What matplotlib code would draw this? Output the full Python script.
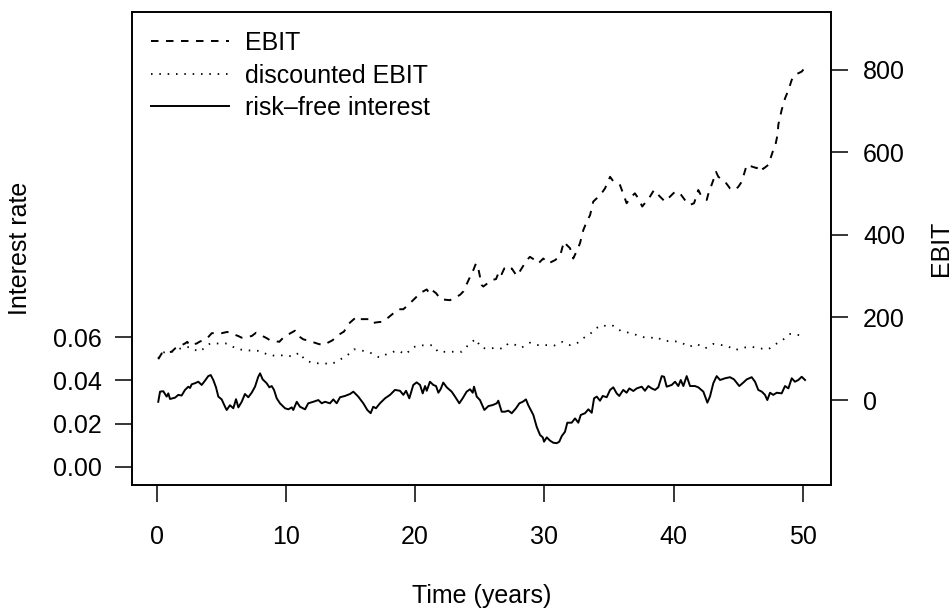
import numpy as np
import matplotlib
matplotlib.use("Agg")
import matplotlib.pyplot as plt

plt.rcParams["font.family"] = ["Liberation Sans", "DejaVu Sans"]
plt.rcParams["lines.scale_dashes"] = False

# risk-free interest rate (left axis)
t_rate = [0.12, 0.26, 0.51, 0.77, 0.90, 1.03, 1.42, 1.67, 1.93, 2.19, 2.45, 2.58, 2.71, 2.96, 3.22, 3.48, 3.74, 3.99,
          4.18, 4.38, 4.59, 4.77, 5.03, 5.29, 5.42, 5.67, 5.93, 6.14, 6.32, 6.58, 6.83, 7.09, 7.35, 7.61, 7.86, 8.00,
          8.20, 8.51, 8.72, 8.90, 9.08, 9.29, 9.54, 9.93, 10.19, 10.45, 10.57, 10.84, 11.09, 11.48, 11.73, 12.12,
          12.51, 12.77, 13.03, 13.41, 13.67, 13.93, 14.19, 14.57, 14.96, 15.22, 15.60, 15.99, 16.30, 16.56, 16.76,
          16.97, 17.28, 17.67, 18.06, 18.44, 18.83, 19.09, 19.30, 19.55, 19.86, 20.12, 20.38, 20.59, 20.77, 20.90,
          21.15, 21.41, 21.62, 21.80, 21.98, 22.18, 22.45, 22.83, 23.09, 23.42, 23.68, 23.99, 24.25, 24.46, 24.56,
          24.77, 25.02, 25.36, 25.67, 26.01, 26.32, 26.44, 26.70, 26.96, 27.21, 27.48, 27.81, 28.07, 28.33, 28.58,
          28.76, 29.15, 29.41, 29.67, 29.88, 29.98, 30.19, 30.44, 30.70, 30.96, 31.16, 31.35, 31.60, 31.78, 32.12,
          32.38, 32.63, 32.82, 33.15, 33.41, 33.67, 33.85, 34.06, 34.31, 34.52, 34.83, 35.09, 35.34, 35.60, 35.80,
          36.11, 36.37, 36.58, 36.89, 37.15, 37.54, 37.79, 38.05, 38.31, 38.57, 38.82, 39.09, 39.27, 39.47, 39.86,
          40.12, 40.37, 40.56, 40.76, 41.02, 41.28, 41.66, 41.92, 42.31, 42.62, 42.82, 43.08, 43.34, 43.60, 43.99,
          44.37, 44.68, 45.09, 45.40, 45.67, 46.05, 46.31, 46.56, 46.83, 47.08, 47.26, 47.47, 47.72, 47.99, 48.37,
          48.63, 48.89, 49.15, 49.40, 49.66, 49.92, 50.18]
rate = [0.0301, 0.0348, 0.0350, 0.0325, 0.0340, 0.0314, 0.0320, 0.0333, 0.0330, 0.0356, 0.0371, 0.0365, 0.0382,
        0.0387, 0.0394, 0.0379, 0.0399, 0.0420, 0.0425, 0.0402, 0.0368, 0.0325, 0.0312, 0.0278, 0.0263, 0.0285,
        0.0271, 0.0313, 0.0275, 0.0301, 0.0337, 0.0322, 0.0343, 0.0371, 0.0417, 0.0433, 0.0405, 0.0387, 0.0368,
        0.0374, 0.0356, 0.0317, 0.0294, 0.0271, 0.0266, 0.0275, 0.0263, 0.0301, 0.0278, 0.0266, 0.0294, 0.0301,
        0.0309, 0.0294, 0.0301, 0.0294, 0.0312, 0.0294, 0.0322, 0.0328, 0.0337, 0.0348, 0.0325, 0.0294, 0.0263,
        0.0248, 0.0278, 0.0271, 0.0294, 0.0317, 0.0333, 0.0356, 0.0352, 0.0333, 0.0352, 0.0317, 0.0379, 0.0391,
        0.0379, 0.0340, 0.0374, 0.0352, 0.0394, 0.0379, 0.0374, 0.0343, 0.0360, 0.0390, 0.0368, 0.0348, 0.0325,
        0.0294, 0.0317, 0.0348, 0.0359, 0.0343, 0.0371, 0.0325, 0.0309, 0.0263, 0.0281, 0.0286, 0.0294, 0.0306,
        0.0255, 0.0255, 0.0260, 0.0248, 0.0271, 0.0294, 0.0301, 0.0312, 0.0285, 0.0240, 0.0185, 0.0147, 0.0136,
        0.0116, 0.0136, 0.0121, 0.0111, 0.0109, 0.0116, 0.0142, 0.0162, 0.0204, 0.0204, 0.0224, 0.0204, 0.0240,
        0.0248, 0.0266, 0.0250, 0.0317, 0.0325, 0.0306, 0.0328, 0.0322, 0.0356, 0.0368, 0.0340, 0.0328, 0.0356,
        0.0343, 0.0363, 0.0351, 0.0363, 0.0371, 0.0352, 0.0374, 0.0363, 0.0356, 0.0368, 0.0420, 0.0417, 0.0371,
        0.0379, 0.0394, 0.0374, 0.0402, 0.0374, 0.0420, 0.0374, 0.0374, 0.0368, 0.0348, 0.0297, 0.0325, 0.0387,
        0.0420, 0.0402, 0.0410, 0.0415, 0.0405, 0.0374, 0.0390, 0.0405, 0.0415, 0.0394, 0.0356, 0.0348, 0.0333,
        0.0309, 0.0343, 0.0333, 0.0343, 0.0340, 0.0374, 0.0363, 0.0410, 0.0394, 0.0402, 0.0417, 0.0402]

# EBIT (right axis)
t_ebit = [0.12, 0.39, 1.16, 1.42, 2.19, 2.37, 2.52, 3.10, 3.30, 3.92, 4.26, 5.03, 5.46, 6.32, 6.58, 7.35, 7.69, 8.51,
          8.77, 9.49, 9.85, 10.70, 10.84, 11.35, 11.73, 12.51, 12.89, 13.62, 13.93, 14.50, 14.83, 15.48, 15.74, 16.38,
          16.64, 16.97, 17.54, 17.93, 18.70, 19.09, 19.55, 20.17, 20.38, 20.90, 21.10, 21.28, 21.62, 21.98, 22.70,
          23.09, 23.48, 23.73, 24.20, 24.38, 24.71, 24.89, 25.15, 25.28, 25.93, 26.26, 26.52, 26.70, 26.90, 27.21,
          27.48, 27.86, 28.07, 28.64, 28.89, 29.28, 29.54, 29.92, 30.31, 30.83, 31.22, 31.52, 31.73, 31.99, 32.24,
          32.55, 32.76, 33.02, 33.28, 33.54, 33.79, 34.06, 34.52, 34.70, 35.09, 35.34, 35.86, 36.37, 36.75, 37.01,
          37.27, 37.58, 38.18, 38.49, 38.95, 39.34, 39.86, 40.12, 40.50, 40.97, 41.28, 41.59, 41.92, 42.11, 42.57,
          42.69, 43.08, 43.29, 43.47, 43.99, 44.37, 44.76, 45.02, 45.28, 45.67, 46.44, 46.69, 46.93, 47.34, 47.68,
          47.86, 48.07, 48.11, 48.37, 48.63, 48.89, 49.15, 49.40, 49.66, 49.92, 50.18]
ebit = [99, 113, 117, 125, 137, 141, 133, 137, 141, 150, 162, 162, 165, 155, 151, 155, 163, 150, 145, 141, 153, 168,
        158, 147, 144, 136, 133, 145, 155, 166, 184, 202, 196, 196, 186, 188, 190, 200, 220, 220, 233, 252, 259, 268,
        259, 267, 259, 244, 242, 248, 255, 263, 295, 305, 331, 319, 279, 275, 291, 293, 313, 305, 319, 313, 319, 301,
        310, 339, 347, 339, 331, 343, 331, 339, 349, 384, 376, 368, 343, 364, 380, 412, 432, 448, 481, 489, 505, 513,
        541, 530, 521, 477, 493, 501, 489, 469, 493, 509, 493, 481, 497, 505, 501, 481, 473, 477, 509, 497, 485, 499,
        533, 553, 541, 529, 513, 509, 517, 529, 570, 562, 570, 560, 570, 602, 614, 646, 667, 703, 731, 751, 776, 788,
        792, 796, 806]

# discounted EBIT (right axis)
t_disc = [0.12, 0.39, 1.16, 1.67, 2.19, 2.71, 3.22, 3.48, 4.13, 4.77, 5.42, 6.14, 6.70, 7.22, 8.00, 8.64, 9.29, 9.93,
          10.53, 11.04, 11.48, 12.12, 12.89, 13.54, 14.13, 14.71, 15.27, 15.87, 16.51, 17.23, 17.93, 18.62, 19.30,
          19.78, 20.33, 20.84, 21.36, 21.80, 22.39, 23.01, 23.61, 24.17, 24.69, 25.10, 25.62, 26.32, 26.78, 27.21,
          27.65, 28.25, 28.89, 29.54, 30.19, 30.77, 31.42, 31.99, 32.51, 33.02, 33.54, 34.00, 34.52, 34.83, 35.34,
          35.99, 36.58, 37.10, 37.54, 38.18, 38.65, 39.27, 39.98, 40.56, 41.20, 41.80, 42.44, 43.08, 43.55, 44.16,
          44.76, 45.40, 46.05, 46.69, 47.34, 47.99, 48.55, 49.02, 49.58, 50.18]
disc = [101, 115, 117, 123, 129, 127, 117, 121, 137, 137, 137, 125, 121, 120, 119, 109, 107, 109, 105, 115, 97, 89,
        89, 87, 97, 107, 123, 120, 115, 103, 113, 120, 111, 127, 133, 132, 133, 116, 117, 117, 117, 135, 148, 127,
        124, 127, 124, 137, 135, 127, 139, 133, 133, 132, 141, 133, 137, 150, 160, 174, 182, 178, 180, 166, 163, 158,
        153, 150, 153, 143, 143, 140, 129, 136, 125, 136, 134, 131, 121, 127, 129, 125, 123, 137, 148, 160, 158, 155]

x_ticks = [0, 10, 20, 30, 40, 50]
rate_ticks = [0.00, 0.02, 0.04, 0.06]
ebit_ticks = [0, 200, 400, 600, 800]

fs = 18
fig = plt.figure(figsize=(9.53, 6.11), dpi=100)
ax = fig.add_axes([0.1388, 0.2067, 0.7332, 0.7732])
ax2 = ax.twinx()

h_solid, = ax.plot(t_rate, rate, color="black", lw=1.4)
l1, = ax2.plot(t_ebit, ebit, color="black", lw=1.4, linestyle=(0, (5.4, 5.4)))
l2, = ax2.plot(t_disc, disc, color="black", lw=1.3, linestyle=(0, (1.1, 4.9)))

ax.set_xlim(-1.89, 52.19)
ax.set_ylim(-0.00835, 0.2107)
ax2.set_ylim(-205.3, 939.8)

ax.set_xticks(x_ticks)
ax.set_yticks(rate_ticks)
ax.set_yticklabels(["%.2f" % v for v in rate_ticks])
ax2.set_yticks(ebit_ticks)
ax.tick_params(axis="x", length=12, width=1.1, pad=17, labelsize=fs)
ax.tick_params(axis="y", length=12, width=1.1, pad=10, labelsize=fs)
ax2.tick_params(axis="y", length=12, width=1.1, pad=11, labelsize=fs)
for a in (ax, ax2):
    for s in a.spines.values():
        s.set_linewidth(1.2)

ax2.legend([l1, l2, h_solid], ["EBIT", "discounted EBIT", "risk\u2013free interest"],
           loc="upper left", bbox_to_anchor=(0.0, 1.0), frameon=False, fontsize=fs,
           handlelength=3.1, handletextpad=0.65, labelspacing=0.34, borderpad=0.5, borderaxespad=0.25)

fig.text(20 / 953, 1 - 248.5 / 611, "Interest rate", rotation=90, ha="center", va="center", fontsize=fs)
fig.text(941 / 953, 1 - 248.5 / 611, "EBIT", rotation=90, ha="center", va="center", fontsize=fs)
fig.text(481.6 / 953, 1 - 596 / 611, "Time (years)", ha="center", va="center", fontsize=fs)

fig.savefig("out.png", dpi=100)
